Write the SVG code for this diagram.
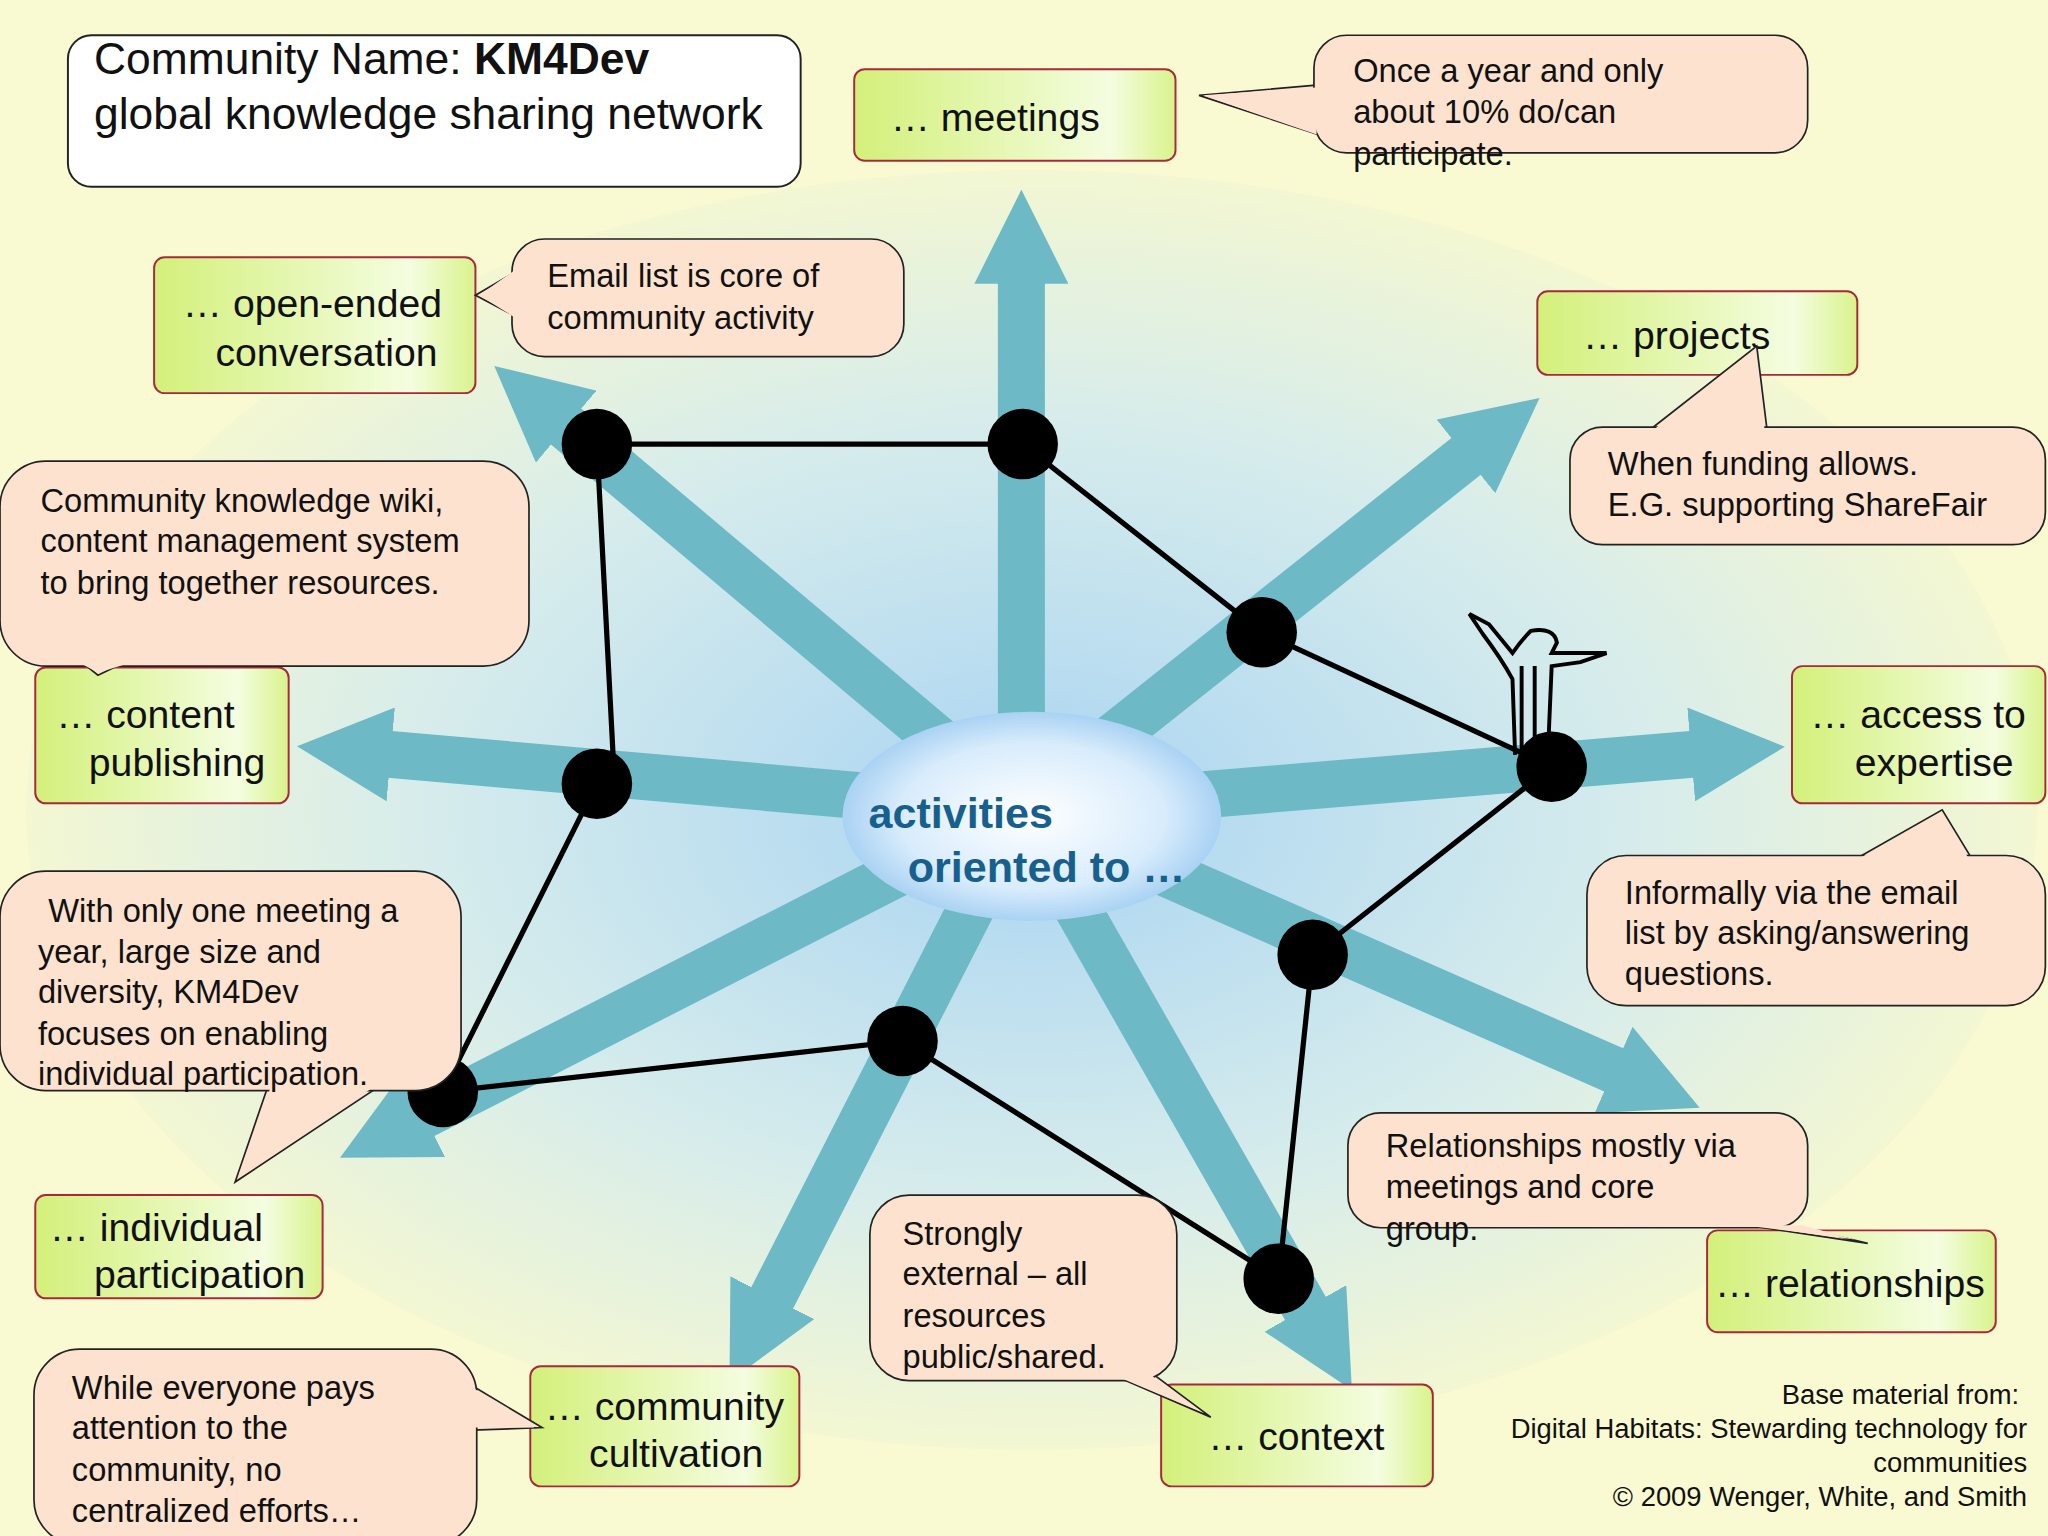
<svg xmlns="http://www.w3.org/2000/svg" width="2048" height="1536" viewBox="0 0 2048 1536">
<defs>
<radialGradient id="bg" cx="0.5" cy="0.5" r="0.5">
<stop offset="0" stop-color="#a9d4f2"/><stop offset="0.6" stop-color="#d6ecec"/><stop offset="1" stop-color="#f3f7d2"/>
</radialGradient>
<radialGradient id="core" cx="0.5" cy="0.5" r="0.5">
<stop offset="0" stop-color="#ffffff"/><stop offset="0.7" stop-color="#d8ecfc"/><stop offset="1" stop-color="#a9d2f3"/>
</radialGradient>
<linearGradient id="grn" x1="0" y1="0" x2="1" y2="0">
<stop offset="0" stop-color="#d3f07a"/><stop offset="0.8" stop-color="#f4fde0"/><stop offset="1" stop-color="#d9f38c"/>
</linearGradient>
<marker id="ah" viewBox="0 0 10 10" refX="1" refY="5" markerWidth="2" markerHeight="2" orient="auto" markerUnits="strokeWidth">
<path d="M0,0 L10,5 L0,10 Z" fill="#6dbac6"/>
</marker>
<style>
text{font-family:"Liberation Sans",Arial,sans-serif;fill:#111}
.g{fill:url(#grn);stroke:#a8283c;stroke-width:1.5}
.c{fill:#fde3cf;stroke:#222;stroke-width:1.3}
.cf{fill:#fde3cf;stroke:none}
.t{font-size:25px}
.b{font-size:30px}
.ar{stroke:#6dbac6;stroke-width:36;fill:none;marker-end:url(#ah)}
.ln{stroke:#000;stroke-width:4;fill:none}
</style>
</defs>
<g transform="scale(1.30612)">
<rect width="1568" height="1176" fill="#fafad2"/>
<ellipse cx="790" cy="620" rx="770" ry="490" fill="url(#bg)"/>
<g id="connectors">
<line class="ar" x1="782" y1="620" x2="782" y2="210"/>
<line class="ar" x1="782" y1="620" x2="428" y2="322"/>
<line class="ar" x1="782" y1="620" x2="1128" y2="345"/>
<line class="ar" x1="782" y1="620" x2="292" y2="577"/>
<line class="ar" x1="782" y1="620" x2="1302" y2="577"/>
<line class="ar" x1="782" y1="620" x2="318" y2="857"/>
<line class="ar" x1="782" y1="620" x2="588" y2="1000"/>
<line class="ar" x1="782" y1="620" x2="1003" y2="1008"/>
<line class="ar" x1="782" y1="620" x2="1242" y2="822"/>
<polyline class="ln" points="457,340 783,340 966,484 1188,587 1005,731 979,979 691,797 339,836 457,600 470,590 457,340"/>
</g>
<g id="center">
<ellipse cx="790" cy="625" rx="145" ry="80" fill="url(#core)"/>
<text x="665" y="634" style="font-size:33px;font-weight:bold;fill:#17608e">activities</text>
<text x="695" y="675" style="font-size:33px;font-weight:bold;fill:#17608e">oriented to …</text>
</g>
<g id="dots" fill="#000">
<circle cx="457" cy="340" r="27"/><circle cx="783" cy="340" r="27"/><circle cx="966" cy="484" r="27"/>
<circle cx="1188" cy="587" r="27"/><circle cx="1005" cy="731" r="27"/><circle cx="979" cy="979" r="27"/>
<circle cx="691" cy="797" r="27"/><circle cx="339" cy="836" r="27"/><circle cx="457" cy="600" r="27"/>
</g>
<g id="figure" fill="none" stroke="#000" stroke-width="3">
<path d="M1160,578 L1158,520 Q1150,505 1135,485 L1125,470 L1140,478 L1158,500 Q1165,490 1172,483 Q1190,480 1192,492 L1188,500 L1230,500 L1210,507 L1188,510 L1185,580"/>
<path d="M1165,510 L1165,578 M1175,510 L1175,578"/>
</g>
<g id="title">
<rect x="52" y="27" width="561" height="116" rx="18" fill="#fff" stroke="#222" stroke-width="1.5"/>
<text x="72" y="57" style="font-size:34px">Community Name: <tspan font-weight="bold">KM4Dev</tspan></text>
<text x="72" y="99" style="font-size:34px">global knowledge sharing network</text>
</g>
<g id="meetings"><rect class="g" x="654" y="53" width="246" height="70" rx="8"/><text class="b" x="682" y="100">… meetings</text></g>
<g id="conversation"><rect class="g" x="118" y="197" width="246" height="104" rx="8"/><text class="b" x="140" y="243">… open-ended</text><text class="b" x="165" y="280">conversation</text></g>
<g id="projects"><rect class="g" x="1177" y="223" width="245" height="64" rx="8"/><text class="b" x="1212" y="267">… projects</text></g>
<g id="publishing"><rect class="g" x="27" y="511" width="194" height="104" rx="8"/><text class="b" x="43" y="557">… content</text><text class="b" x="68" y="594">publishing</text></g>
<g id="expertise"><rect class="g" x="1372" y="510" width="194" height="105" rx="8"/><text class="b" x="1386" y="557">… access to</text><text class="b" x="1420" y="594">expertise</text></g>
<g id="participation"><rect class="g" x="27" y="915" width="220" height="79" rx="8"/><text class="b" x="38" y="950">… individual</text><text class="b" x="72" y="986">participation</text></g>
<g id="cultivation"><rect class="g" x="406" y="1046" width="206" height="92" rx="8"/><text class="b" x="417" y="1087">… community</text><text class="b" x="451" y="1123">cultivation</text></g>
<g id="context"><rect class="g" x="889" y="1060" width="208" height="78" rx="8"/><text class="b" x="925" y="1110">… context</text></g>
<g id="relationships"><rect class="g" x="1307" y="942" width="221" height="78" rx="8"/><text class="b" x="1313" y="993">… relationships</text></g>

<g id="c-email"><polygon class="c" points="400,205 364,226 400,245"/><rect class="c" x="392" y="183" width="300" height="90" rx="25"/><polygon class="cf" points="394,207 367,226 394,243"/>
<text class="t" x="419" y="220">Email list is core of</text><text class="t" x="419" y="252">community activity</text></g>
<g id="c-year"><polygon class="c" points="1010,65 918,73 1015,105"/><rect class="c" x="1006" y="27" width="378" height="90" rx="25"/><polygon class="cf" points="1008,67 921,73 1008,103"/>
<text class="t" x="1036" y="63">Once a year and only</text><text class="t" x="1036" y="94">about 10% do/can</text><text class="t" x="1036" y="126">participate.</text></g>
<g id="c-funding"><polygon class="c" points="1262,330 1345,265 1353,330"/><rect class="c" x="1202" y="327" width="364" height="90" rx="25"/><polygon class="cf" points="1266,329 1344,268 1351,329"/>
<text class="t" x="1231" y="364">When funding allows.</text><text class="t" x="1231" y="395">E.G. supporting ShareFair</text></g>
<g id="c-wiki"><polygon class="c" points="60,505 75,517 100,505"/><rect class="c" x="0" y="353" width="405" height="157" rx="35"/><polygon class="cf" points="62,508 75,515 98,508"/>
<text class="t" x="31" y="392">Community knowledge wiki,</text><text class="t" x="31" y="423">content management system</text><text class="t" x="31" y="455">to bring together resources.</text></g>
<g id="c-informal"><polygon class="c" points="1420,658 1487,620 1510,658"/><rect class="c" x="1215" y="655" width="351" height="115" rx="30"/><polygon class="cf" points="1424,657 1486,623 1507,657"/>
<text class="t" x="1244" y="692">Informally via the email</text><text class="t" x="1244" y="723">list by asking/answering</text><text class="t" x="1244" y="754">questions.</text></g>
<g id="c-meeting"><polygon class="c" points="205,832 180,905 290,832"/><rect class="c" x="0" y="667" width="353" height="168" rx="35"/><polygon class="cf" points="207,833 183,899 285,833"/>
<text class="t" x="37" y="706">With only one meeting a</text><text class="t" x="29" y="737">year, large size and</text><text class="t" x="29" y="768">diversity, KM4Dev</text><text class="t" x="29" y="800">focuses on enabling</text><text class="t" x="29" y="831">individual participation.</text></g>
<g id="c-relations"><polygon class="c" points="1330,937 1430,952 1380,940"/><rect class="c" x="1032" y="852" width="352" height="88" rx="25"/><polygon class="cf" points="1335,938 1420,949 1380,938"/>
<text class="t" x="1061" y="886">Relationships mostly via</text><text class="t" x="1061" y="917">meetings and core</text><text class="t" x="1061" y="949">group.</text></g>
<g id="c-external"><polygon class="c" points="855,1054 927,1085 880,1050"/><rect class="c" x="666" y="915" width="235" height="142" rx="30"/><polygon class="cf" points="858,1055 920,1081 880,1052"/>
<text class="t" x="691" y="953">Strongly</text><text class="t" x="691" y="984">external – all</text><text class="t" x="691" y="1016">resources</text><text class="t" x="691" y="1047">public/shared.</text></g>
<g id="c-everyone"><polygon class="c" points="360,1060 415,1093 362,1095"/><rect class="c" x="26" y="1033" width="339" height="150" rx="35"/><polygon class="cf" points="363,1063 409,1093 363,1093"/>
<text class="t" x="55" y="1071">While everyone pays</text><text class="t" x="55" y="1102">attention to the</text><text class="t" x="55" y="1134">community, no</text><text class="t" x="55" y="1165">centralized efforts…</text></g>
<g id="footer" style="font-size:21px" text-anchor="end">
<text x="1546" y="1075">Base material from:</text>
<text x="1552" y="1101">Digital Habitats: Stewarding technology for</text>
<text x="1552" y="1127">communities</text>
<text x="1552" y="1153">© 2009 Wenger, White, and Smith</text>
</g>
</g>
</svg>
